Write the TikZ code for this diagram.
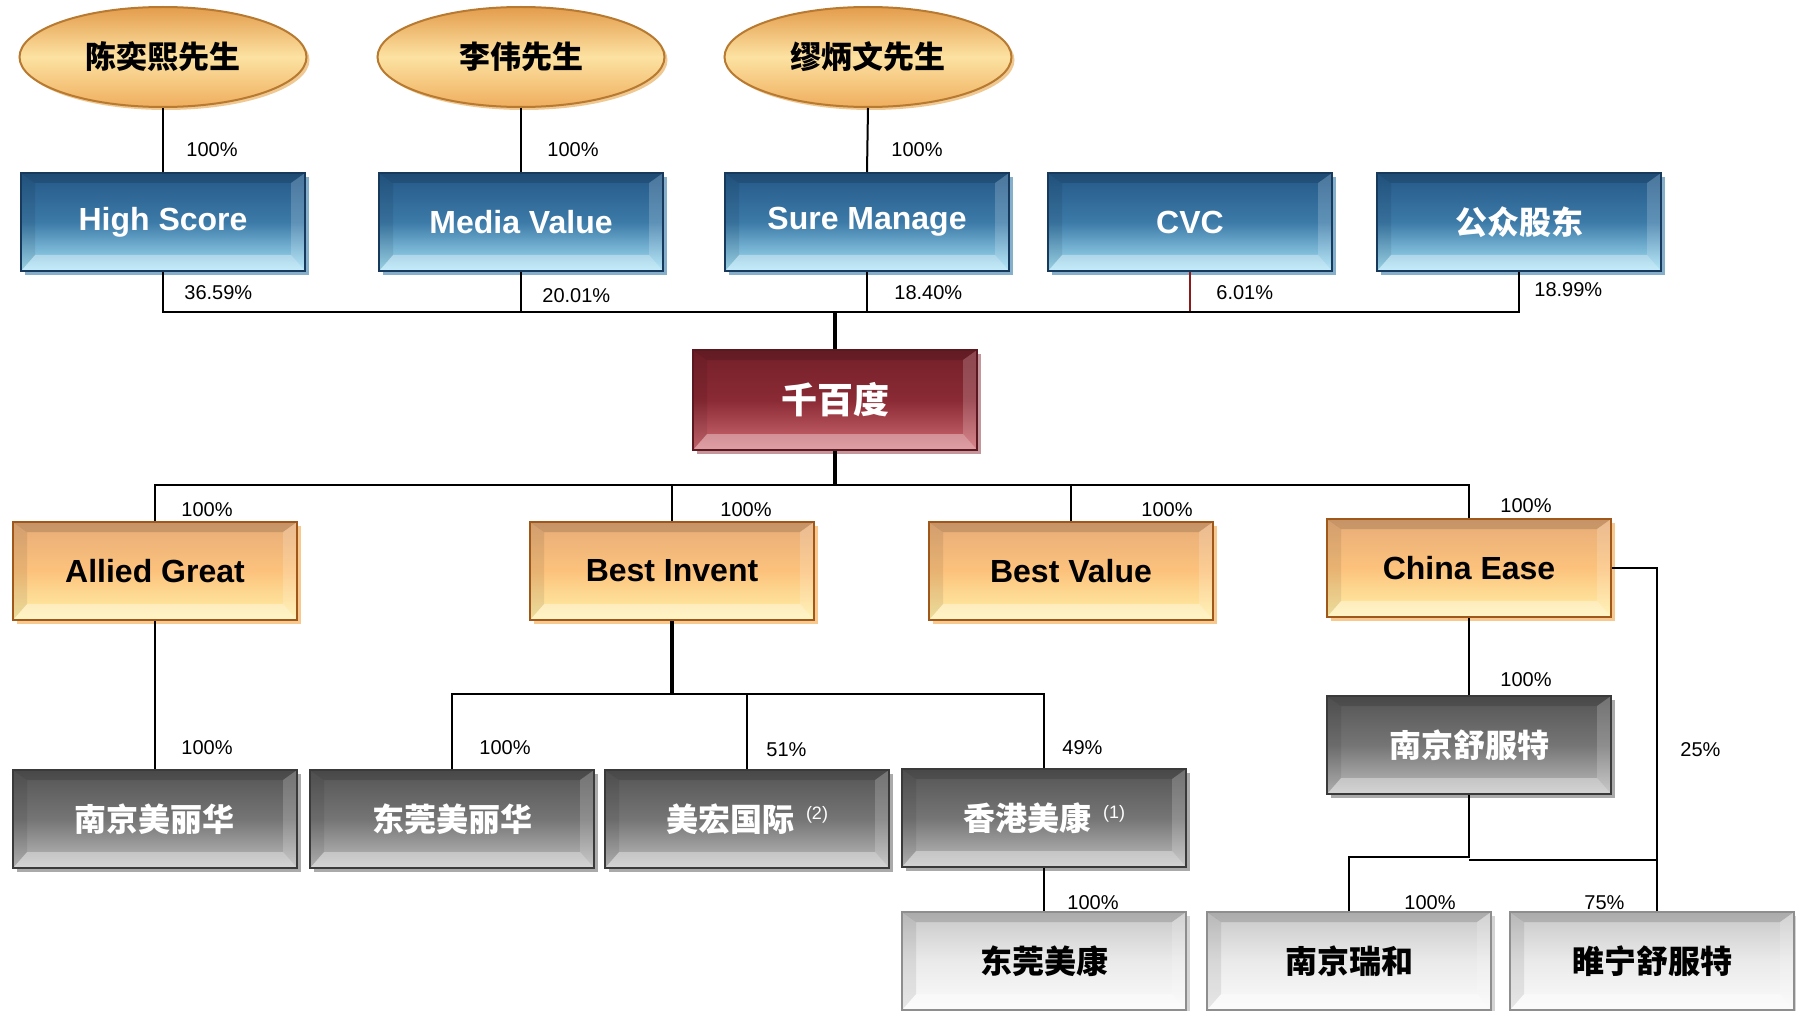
\documentclass[tikz,border=0pt]{standalone}
\usepackage{fontspec}
\setmainfont{Liberation Sans}
\newfontfamily\cjk{Noto Sans CJK SC}
\usetikzlibrary{shapes.geometric, shadows}

\definecolor{blueTop}{HTML}{245887}
\definecolor{blueMid}{HTML}{3C7AA8}
\definecolor{blueBot}{HTML}{A8E4F8}
\definecolor{blueEdge}{HTML}{173A5C}
\definecolor{blueShade}{HTML}{86AFCB}
\definecolor{redTop}{HTML}{74202A}
\definecolor{redMid}{HTML}{8A2A34}
\definecolor{redBot}{HTML}{D06C74}
\definecolor{redEdge}{HTML}{5A1820}
\definecolor{redShade}{HTML}{C4959B}
\definecolor{orTop}{HTML}{E6AC78}
\definecolor{orMid}{HTML}{FCC27C}
\definecolor{orBot}{HTML}{FFF2AA}
\definecolor{orEdge}{HTML}{A0581A}
\definecolor{orShade}{HTML}{F7C98F}
\definecolor{grTop}{HTML}{555555}
\definecolor{grMid}{HTML}{757575}
\definecolor{grBot}{HTML}{BEBEBE}
\definecolor{grEdge}{HTML}{3A3A3A}
\definecolor{grShade}{HTML}{AAAAAA}
\definecolor{ltTop}{HTML}{C8C8C8}
\definecolor{ltMid}{HTML}{EAEAEA}
\definecolor{ltBot}{HTML}{FBFBFB}
\definecolor{ltEdge}{HTML}{8E8E8E}
\definecolor{ltShade}{HTML}{D4D4D4}
\definecolor{ellTop}{HTML}{E39C4C}
\definecolor{ellMid}{HTML}{FCE2A2}
\definecolor{ellBot}{HTML}{EFAE5E}
\definecolor{ellEdge}{HTML}{B77A30}
\definecolor{ellShade}{HTML}{F0C892}
\definecolor{cvcLine}{HTML}{8B1A1A}

\tikzset{
  bevel/.style={path picture={
    \path (path picture bounding box.north west) coordinate (pnw)
          (path picture bounding box.south east) coordinate (pse)
          (pnw |- pse) coordinate (psw)
          (pse |- pnw) coordinate (pne);
    \fill[black,opacity=.14] (pnw) -- (pne) -- ([shift={(-7pt,-5pt)}]pne) -- ([shift={(7pt,-5pt)}]pnw) -- cycle;
    \fill[white,opacity=.35] (psw) -- (pse) -- ([shift={(-7pt,8pt)}]pse) -- ([shift={(7pt,8pt)}]psw) -- cycle;
    \fill[black,opacity=.08] (pnw) -- ([shift={(7pt,-5pt)}]pnw) -- ([shift={(7pt,8pt)}]psw) -- (psw) -- cycle;
    \fill[white,opacity=.18] (pne) -- ([shift={(-7pt,-5pt)}]pne) -- ([shift={(-7pt,8pt)}]pse) -- (pse) -- cycle;
  }}
}

\begin{document}
\begin{tikzpicture}[x=0.5pt,y=-0.5pt,
    person/.style={ellipse, draw=ellEdge, line width=1pt, top color=ellTop, bottom color=ellBot, middle color=ellMid,
      minimum width=143.5pt, minimum height=50pt, inner sep=0pt, font=\cjk\bfseries\fontsize{15.5}{18}\selectfont,
      drop shadow={shadow xshift=1.5pt, shadow yshift=-1.5pt, fill=ellShade, opacity=1}},
    box/.style={rectangle, line width=1pt, minimum width=142pt, minimum height=49pt, inner sep=0pt, bevel},
    holder/.style={box, draw=blueEdge, top color=blueTop, bottom color=blueBot, middle color=blueMid, text=white,
      font=\bfseries\fontsize{16}{19}\selectfont, drop shadow={shadow xshift=2pt, shadow yshift=-2pt, fill=blueShade, opacity=1}},
    company/.style={box, draw=redEdge, top color=redTop, bottom color=redBot, middle color=redMid, text=white,
      minimum height=50pt, font=\cjk\bfseries\fontsize{18}{21}\selectfont,
      drop shadow={shadow xshift=2pt, shadow yshift=-2pt, fill=redShade, opacity=1}},
    bvi/.style={box, draw=orEdge, top color=orTop, bottom color=orBot, middle color=orMid,
      font=\bfseries\fontsize{16}{19}\selectfont, drop shadow={shadow xshift=2pt, shadow yshift=-2pt, fill=orShade, opacity=1}},
    subsid/.style={box, draw=grEdge, top color=grTop, bottom color=grBot, middle color=grMid, text=white,
      font=\cjk\bfseries\fontsize{16}{19}\selectfont, drop shadow={shadow xshift=2pt, shadow yshift=-2pt, fill=grShade, opacity=1}},
    branch/.style={box, draw=ltEdge, top color=ltTop, bottom color=ltBot, middle color=ltMid,
      font=\cjk\bfseries\fontsize{16}{19}\selectfont, drop shadow={shadow xshift=2pt, shadow yshift=-2pt, fill=ltShade, opacity=1}},
    pct/.style={font=\fontsize{10}{12}\selectfont, anchor=west, inner sep=0pt},
    line/.style={line width=1pt},
    trunk/.style={line width=1.6pt}]

  \fill[white] (0,0) rectangle (1796,1011);
  \useasboundingbox (0,0) rectangle (1796,1011);

  \node[person] (chen) at (163,57) {陈奕熙先生};
  \node[person] (li) at (521,57) {李伟先生};
  \node[person] (miao) at (868,57) {缪炳文先生};

  \node[holder] (highscore) at (163,222) {High Score};
  \node[holder] (mediavalue) at (521,222) {Media Value};
  \node[holder] (suremanage) at (867,222) {Sure Manage};
  \node[holder] (cvc) at (1190,222) {CVC};
  \node[holder] (public) at (1519,222) {\cjk 公众股东};

  \node[company] (qbd) at (835,400) {千百度};

  \node[bvi] (allied) at (155,571) {Allied Great};
  \node[bvi] (invent) at (672,571) {Best Invent};
  \node[bvi] (bvalue) at (1071,571) {Best Value};
  \node[bvi] (ease) at (1469,568) {China Ease};

  \node[subsid] (njsft) at (1469,745) {南京舒服特};
  \node[subsid] (njmlh) at (155,819) {南京美丽华};
  \node[subsid] (dgmlh) at (452,819) {东莞美丽华};
  \node[subsid] (mhgj) at (747,819) {美宏国际\hspace{6pt}\raisebox{6pt}{\rmfamily\mdseries\fontsize{9}{10}\selectfont (2)}};
  \node[subsid] (hkmk) at (1044,818) {香港美康\hspace{6pt}\raisebox{6pt}{\rmfamily\mdseries\fontsize{9}{10}\selectfont (1)}};

  \node[branch] (dgmk) at (1044,961) {东莞美康};
  \node[branch] (njrh) at (1349,961) {南京瑞和};
  \node[branch] (sn) at (1652,961) {睢宁舒服特};

  \coordinate (topbus) at (835,312);
  \coordinate (midbus) at (835,485);
  \coordinate (inventbus) at (672,694);
  \coordinate (sftbus) at (1469,857);
  \coordinate (easebus) at (1657,860);

  \draw[line] (chen.south) -- (highscore.north);
  \draw[line] (li.south) -- (mediavalue.north);
  \draw[line] (miao.south) -- (suremanage.north);

  \draw[line, draw=cvcLine] (cvc.south) -- (cvc.south |- topbus);
  \draw[line] (highscore.south) |- (topbus);
  \draw[line] (public.south) |- (topbus);
  \draw[line] (mediavalue.south) -- (mediavalue.south |- topbus);
  \draw[line] (suremanage.south) -- (suremanage.south |- topbus);
  \draw[trunk] (topbus) -- (qbd.north);

  \draw[trunk] (qbd.south) -- (midbus);
  \draw[line] (allied.north) |- (midbus) -| (ease.north);
  \draw[line] (invent.north) -- (invent.north |- midbus);
  \draw[line] (bvalue.north) -- (bvalue.north |- midbus);

  \draw[line] (allied.south) -- (njmlh.north);
  \draw[trunk] (invent.south) -- (inventbus);
  \draw[line] (dgmlh.north) |- (inventbus) -| (hkmk.north);
  \draw[line] (mhgj.north) -- (mhgj.north |- inventbus);
  \draw[line] (hkmk.south) -- (dgmk.north);

  \draw[line] (ease.south) -- (njsft.north);
  \draw[line] (njsft.south) -- (sftbus) -| (njrh.north);
  \draw[line] (ease.east) -| (easebus) -- (easebus -| njsft.south);
  \draw[line] (easebus) -- (easebus |- sn.north);

  \node[pct] (pchen) at (186,150) {100\%};
  \node[pct] (pli) at (547,150) {100\%};
  \node[pct] (pmiao) at (891,150) {100\%};
  \node[pct] (phigh) at (184,293) {36.59\%};
  \node[pct] (pmedia) at (542,296) {20.01\%};
  \node[pct] (psure) at (894,293) {18.40\%};
  \node[pct] (pcvc) at (1216,293) {6.01\%};
  \node[pct] (ppublic) at (1534,290) {18.99\%};

  \node[pct] (pallied) at (181,510) {100\%};
  \node[pct] (pinvent) at (720,510) {100\%};
  \node[pct] (pbvalue) at (1141,510) {100\%};
  \node[pct] (pease) at (1500,506) {100\%};

  \node[pct] (pnjsft) at (1500,680) {100\%};
  \node[pct] (pnjmlh) at (181,748) {100\%};
  \node[pct] (pdgmlh) at (479,748) {100\%};
  \node[pct] (pmhgj) at (766,750) {51\%};
  \node[pct] (phkmk) at (1062,748) {49\%};
  \node[pct] (psn25) at (1680,750) {25\%};

  \node[pct] (pdgmk) at (1067,903) {100\%};
  \node[pct] (pnjrh) at (1404,903) {100\%};
  \node[pct] (psn75) at (1584,903) {75\%};
\end{tikzpicture}
\end{document}
